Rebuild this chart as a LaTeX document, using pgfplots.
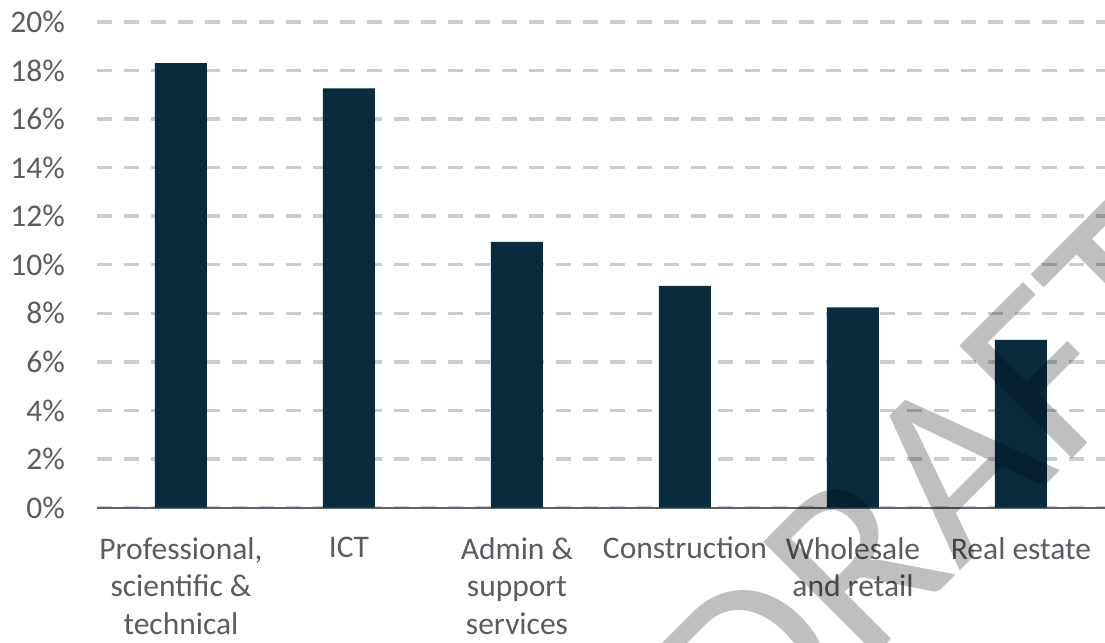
\documentclass[border=0pt]{standalone}
\usepackage{fontspec}
\setmainfont{Carlito}
\usepackage{pgfplots}
\pgfplotsset{compat=1.18}
\definecolor{barc}{RGB}{8,43,62}
\definecolor{gridc}{RGB}{200,205,210}
\definecolor{txtc}{RGB}{89,92,96}
\definecolor{axc}{RGB}{90,100,110}
\begin{document}
\begin{tikzpicture}
\begin{axis}[
  at={(0,0)}, anchor=south west,
  scale only axis,
  width=1008bp, height=485.5bp,
  xmin=-0.5, xmax=5.5, ymin=0, ymax=20,
  axis x line*=bottom, axis y line*=left,
  x axis line style={draw=axc, line width=2bp, -},
  y axis line style={draw=none},
  major tick length=0pt,
  ytick={0,2,...,20},
  yticklabel={\pgfmathprintnumber{\tick}\%},
  /pgf/number format/assume math mode=true,
  ymajorgrids,
  grid style={draw=gridc, line width=3.5bp, dash pattern=on 15bp off 12bp},
  xtick=data,
  xticklabels={{Professional,\\scientific \&\\technical},{ICT},{Admin \&\\support\\services},{Construction},{Wholesale\\and retail},{Real estate}},
  every tick label/.append style={text=txtc, font=\fontsize{31.5bp}{37.5bp}\selectfont, inner sep=0pt},
  y tick label style={anchor=east, xshift=-32bp},
  x tick label style={align=center, anchor=north, yshift=-29.5bp},
  bar width=52bp,
]
\addplot[ybar, fill=barc, draw=none] coordinates {
  (0,18.31) (1,17.27) (2,10.94) (3,9.13) (4,8.24) (5,6.91)
};
\end{axis}
\node[rotate=45, opacity=0.25, text=black, font=\fontsize{248bp}{248bp}\selectfont, inner sep=0pt] at (838bp,24bp) {DRAFT};
\pgfresetboundingbox
\path[use as bounding box] (-97bp,-135.5bp) rectangle (1008bp,507.5bp);
\end{tikzpicture}
\end{document}
